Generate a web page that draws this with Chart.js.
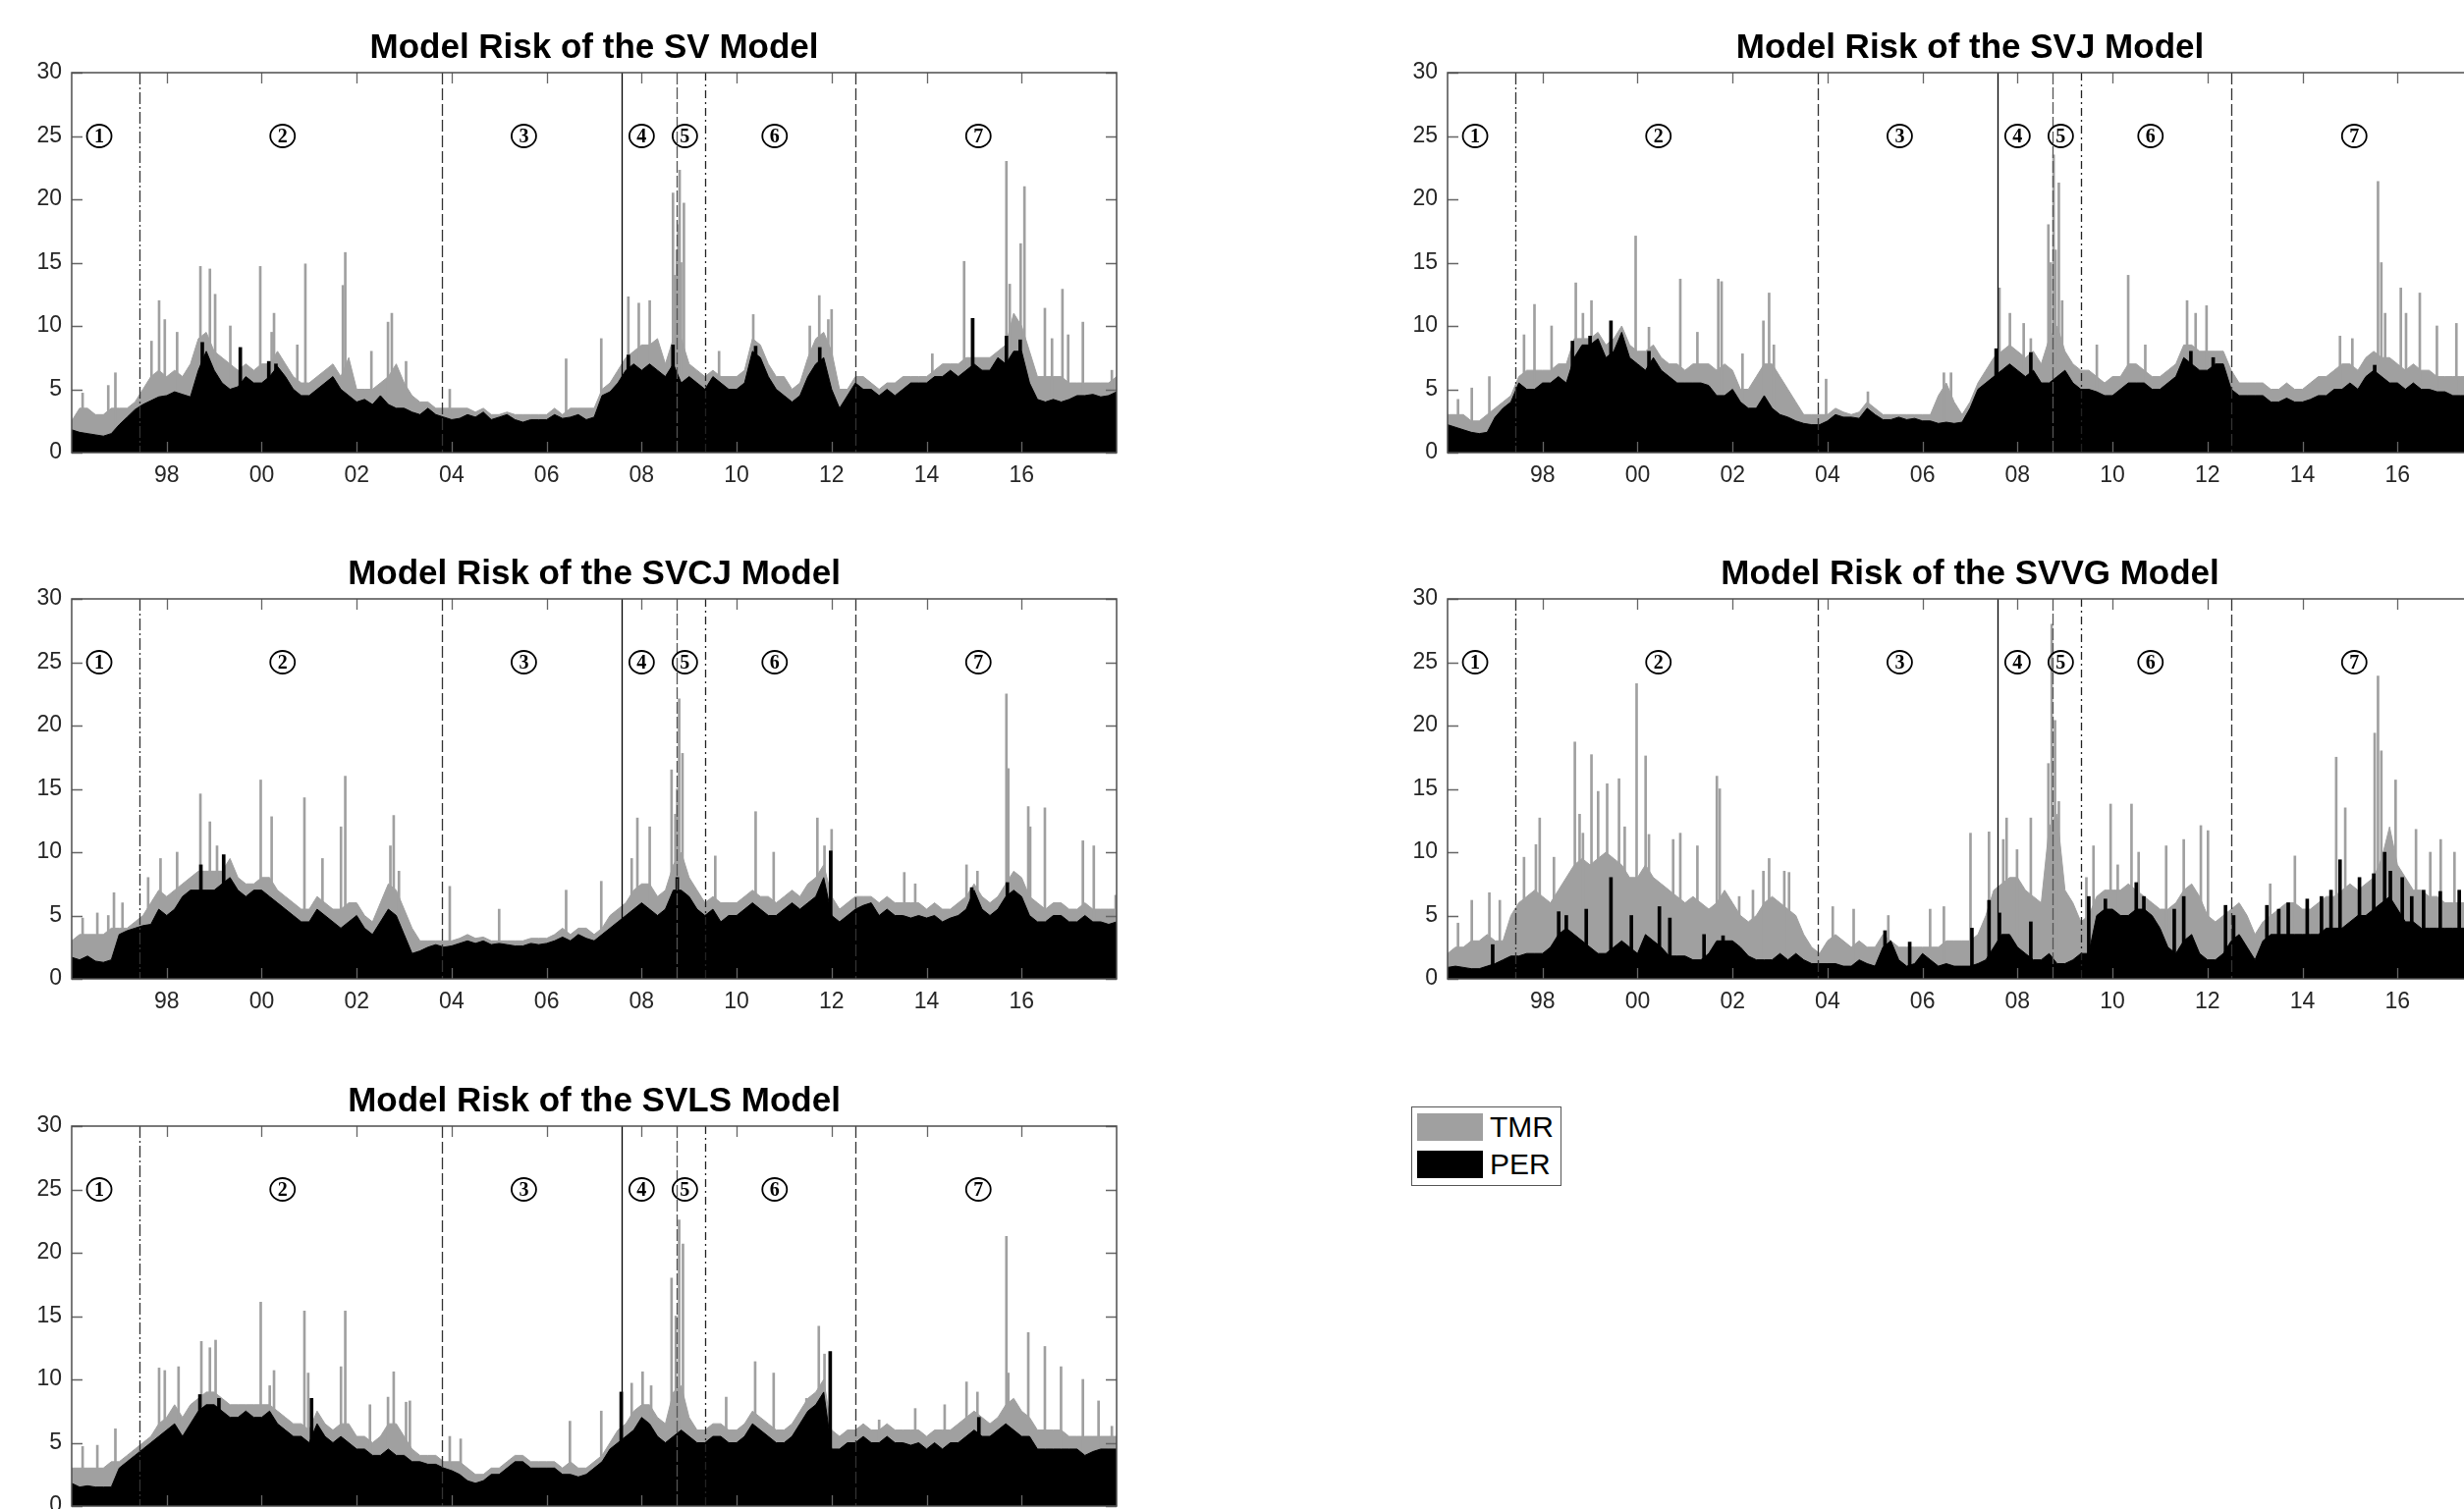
<!DOCTYPE html>
<html>
<head>
<meta charset="utf-8">
<script src="https://cdn.jsdelivr.net/npm/chart.js@4.4.1/dist/chart.umd.min.js"></script>
<style>
  html, body { margin: 0; padding: 0; background: #fff; width: 2509px; height: 1537px; overflow: hidden; }
  canvas { position: absolute; }
  #legend {
    position: absolute; left: 1437px; top: 1127px; width: 151px; height: 79px;
    border: 1px solid #555; background: #fff;
    font-family: 'Liberation Sans', Arial, Helvetica, sans-serif; font-size: 30px; color: #000;
  }
  #legend .sw { position: absolute; left: 5px; width: 67px; height: 28px; }
  #legend .lb { position: absolute; left: 79px; line-height: 30px; }
</style>
</head>
<body>
<canvas id="svChart"></canvas>
<canvas id="svjChart"></canvas>
<canvas id="svcjChart"></canvas>
<canvas id="svvgChart"></canvas>
<canvas id="svlsChart"></canvas>
<div id="legend">
  <div class="sw" style="top:6px;background:#a0a0a0"></div><div class="lb" style="top:5px">TMR</div>
  <div class="sw" style="top:44px;background:#000"></div><div class="lb" style="top:43px">PER</div>
</div>
<script>
// time axis: one sample every 2 months from 1996 to 2018
const startYear = 1996;
const endYear = 2018;
const sampleStep = 1 / 6;

const xTickYears = [1998, 2000, 2002, 2004, 2006, 2008, 2010, 2012, 2014, 2016];
const xTickLabels = ['98', '00', '02', '04', '06', '08', '10', '12', '14', '16'];

// crisis periods
const regimeBreaks = [1997.42, 2003.79, 2007.57, 2008.73, 2009.33, 2012.49];
const regimeNames = ['1', '2', '3', '4', '5', '6', '7'];
const regimeLabelYears = [1996.58, 2000.44, 2005.52, 2008.0, 2008.91, 2010.8, 2015.09];
const regimeLabelLevel = 25;

// ---- SV ----
const svPER = [
  1.8, 1.6, 1.5, 1.4, 1.3, 1.5,
  2.2, 2.8, 3.4, 3.8, 4.1, 4.4,
  4.5, 4.8, 4.6, 4.4, 6.5, 8.0,
  6.5, 5.5, 5.0, 5.2, 6.0, 5.5,
  5.5, 6.0, 6.8, 6.0, 5.0, 4.5,
  4.5, 5.0, 5.5, 6.0, 5.0, 4.5,
  4.0, 4.2, 3.8, 4.5, 3.8, 3.5,
  3.5, 3.2, 3.0, 3.5, 3.0, 2.8,
  2.6, 2.7, 3.0, 2.8, 3.2, 2.6,
  2.8, 3.0, 2.6, 2.4, 2.6, 2.6,
  2.6, 3.0, 2.7, 2.8, 3.0, 2.6,
  2.8, 4.5, 4.8, 5.5, 6.5, 7.0,
  6.5, 7.0, 6.5, 6.0, 7.0, 5.5,
  6.0, 5.5, 5.0, 6.0, 5.5, 5.0,
  5.0, 5.5, 8.0, 7.5, 6.0, 5.0,
  4.5, 4.0, 4.5, 6.0, 7.0, 7.5,
  5.0, 3.5, 4.5, 5.5, 5.0, 5.0,
  4.5, 5.0, 4.5, 5.0, 5.5, 5.5,
  5.5, 6.0, 6.0, 6.5, 6.0, 6.5,
  7.0, 6.5, 6.5, 7.5, 7.0, 8.0,
  8.0, 5.5, 4.2, 4.0, 4.2, 4.0,
  4.2, 4.5, 4.5, 4.6, 4.4, 4.5,
  4.8
];
const svTMR = [
  2.5, 3.5, 3.5, 3.0, 3.0, 3.5,
  3.5, 3.5, 4.0, 5.0, 6.0, 6.5,
  6.0, 6.5, 6.0, 7.0, 9.0, 9.5,
  8.0, 7.5, 7.0, 6.5, 7.0, 6.5,
  7.0, 7.0, 8.0, 7.0, 6.0, 5.5,
  5.5, 6.0, 6.5, 7.0, 6.0, 7.5,
  5.0, 5.0, 5.0, 5.5, 6.0, 7.0,
  5.5, 4.5, 4.0, 4.0, 3.5, 3.5,
  3.5, 3.5, 3.5, 3.2, 3.5, 3.0,
  3.0, 3.2, 3.0, 3.0, 3.0, 3.0,
  3.0, 3.5, 3.0, 3.5, 3.5, 3.5,
  3.5, 5.0, 5.5, 6.5, 7.5, 8.0,
  8.5, 8.5, 9.0, 7.0, 9.0, 9.0,
  7.0, 6.5, 6.0, 6.5, 6.0, 6.0,
  6.0, 6.5, 9.0, 8.5, 7.0, 6.0,
  6.0, 5.0, 5.5, 7.5, 9.0, 9.5,
  8.0, 5.0, 5.0, 6.0, 6.0, 5.5,
  5.0, 5.5, 5.5, 6.0, 6.0, 6.0,
  6.0, 6.5, 7.0, 7.0, 7.0, 7.5,
  7.5, 7.5, 7.5, 8.0, 8.5, 11.0,
  10.0, 8.0, 6.0, 6.0, 6.0, 6.0,
  5.5, 5.5, 5.5, 5.5, 5.5, 5.5,
  6.0
];
const svTMRSpikes = [
  [1996.23, 4.7], [1996.77, 5.3], [1996.92, 6.3], [1997.68, 8.8], [1997.84, 12.0], [1997.96, 10.5],
  [1998.22, 9.5], [1998.71, 14.7], [1998.91, 14.5], [1999.02, 12.5], [1999.34, 10.0], [1999.97, 14.7],
  [2000.21, 9.5], [2000.26, 11.0], [2000.75, 8.5], [2000.92, 14.9], [2001.71, 13.2], [2001.76, 15.8],
  [2002.31, 8.0], [2002.66, 10.3], [2002.74, 11.0], [2003.04, 7.2], [2003.96, 5.0], [2006.41, 7.4],
  [2007.15, 9.0], [2007.72, 12.3], [2007.94, 11.8], [2008.17, 12.0], [2008.66, 20.5], [2008.7, 14.0],
  [2008.74, 16.0], [2008.77, 18.0], [2008.8, 22.3], [2008.83, 15.0], [2008.89, 19.7], [2009.63, 8.0],
  [2010.35, 10.9], [2011.54, 10.0], [2011.74, 12.4], [2011.93, 10.5], [2012.0, 11.3], [2014.12, 7.8],
  [2014.79, 15.1], [2014.96, 10.6], [2015.68, 23.0], [2015.75, 13.3], [2015.98, 16.5], [2016.06, 21.0],
  [2016.49, 11.4], [2016.64, 9.0], [2016.86, 12.9], [2016.98, 9.3], [2017.29, 10.3], [2017.9, 6.5]
];
const svPERSpikes = [
  [1998.75, 8.7], [1999.55, 8.3], [2000.15, 7.2], [2000.3, 7.0], [2007.72, 7.7], [2008.66, 8.5],
  [2010.4, 8.4], [2011.75, 8.3], [2014.97, 10.6], [2015.68, 9.2], [2015.97, 8.9]
];

// ---- SVJ ----
const svjPER = [
  2.2, 2.0, 1.8, 1.6, 1.5, 1.6,
  2.8, 3.5, 4.0, 5.5, 5.0, 5.0,
  5.5, 5.5, 6.0, 5.5, 7.5, 8.5,
  8.5, 9.0, 7.5, 8.0, 9.5, 7.5,
  7.0, 6.5, 7.5, 6.5, 6.0, 5.5,
  5.5, 5.5, 5.5, 5.3, 4.5, 4.5,
  5.0, 4.0, 3.5, 3.5, 4.5, 3.5,
  3.0, 2.8, 2.5, 2.3, 2.2, 2.2,
  2.5, 3.0, 2.8, 2.8, 2.7, 3.5,
  3.0, 2.6, 2.6, 2.8, 2.6, 2.7,
  2.5, 2.5, 2.3, 2.4, 2.3, 2.4,
  3.5, 5.0, 5.5, 6.0, 6.5, 7.0,
  6.5, 6.0, 6.5, 5.5, 5.5, 6.0,
  6.5, 5.5, 5.0, 5.0, 4.8, 4.5,
  4.5, 5.0, 5.5, 5.5, 5.5, 5.0,
  5.0, 5.5, 6.0, 7.5, 7.0, 6.5,
  6.5, 7.0, 7.0, 5.0, 4.5, 4.5,
  4.5, 4.5, 4.0, 4.0, 4.3, 4.0,
  4.0, 4.2, 4.5, 4.5, 5.0, 5.0,
  5.5, 5.0, 6.0, 6.5, 6.0, 5.5,
  5.5, 5.0, 5.5, 5.0, 5.0, 4.8,
  4.8, 4.5, 4.5, 4.5, 4.5, 4.5,
  4.5
];
const svjTMR = [
  3.0, 3.0, 3.0, 2.5, 2.5, 3.0,
  3.5, 4.0, 4.5, 6.0, 6.5, 6.5,
  6.5, 6.5, 7.0, 7.0, 9.0, 9.0,
  9.0, 9.5, 8.5, 9.0, 10.0, 8.5,
  8.0, 8.0, 8.5, 7.5, 7.0, 7.0,
  6.5, 7.0, 7.0, 7.0, 6.5, 7.0,
  6.5, 5.0, 5.0, 6.0, 7.0, 7.0,
  6.0, 5.0, 4.0, 3.0, 3.0, 3.0,
  3.0, 3.5, 3.2, 3.0, 3.2, 4.0,
  3.5, 3.0, 3.0, 3.0, 3.0, 3.0,
  3.0, 3.0, 4.5, 5.5, 4.0, 3.0,
  4.0, 5.5, 6.5, 7.5, 8.0, 8.5,
  8.0, 7.5, 8.0, 7.0, 9.0, 10.0,
  8.0, 7.0, 6.5, 6.5, 6.0, 5.5,
  6.0, 6.0, 7.0, 7.0, 6.5, 6.0,
  6.0, 6.5, 7.0, 8.5, 8.5, 8.0,
  8.0, 8.0, 8.0, 6.5, 5.5, 5.5,
  5.5, 5.5, 5.0, 5.0, 5.5, 5.0,
  5.0, 5.5, 6.0, 6.0, 6.5, 7.0,
  7.0, 6.5, 7.5, 8.0, 7.5, 7.5,
  7.0, 6.5, 7.0, 6.5, 6.5, 6.0,
  6.0, 6.0, 6.0, 6.0, 6.0, 6.0,
  6.0
];
const svjTMRSpikes = [
  [1996.22, 4.2], [1996.51, 5.1], [1996.88, 6.0], [1997.61, 9.3], [1997.83, 11.7], [1998.19, 10.0],
  [1998.7, 13.4], [1998.85, 11.0], [1999.03, 12.0], [1999.96, 17.1], [2000.24, 9.9], [2000.9, 13.7],
  [2001.26, 9.5], [2001.7, 13.7], [2001.77, 13.5], [2002.21, 7.8], [2002.65, 10.4], [2002.77, 12.6],
  [2002.87, 8.5], [2003.97, 5.8], [2004.85, 4.8], [2006.45, 6.3], [2006.6, 6.3], [2007.62, 13.0],
  [2007.84, 11.0], [2008.13, 10.2], [2008.28, 9.0], [2008.65, 18.0], [2008.7, 15.0], [2008.76, 23.5],
  [2008.8, 16.0], [2008.87, 21.3], [2008.94, 12.0], [2009.67, 8.5], [2010.33, 14.0], [2010.69, 8.5],
  [2011.57, 12.0], [2011.75, 11.0], [2011.98, 11.6], [2014.79, 9.2], [2015.05, 9.0], [2015.59, 21.4],
  [2015.66, 15.0], [2015.74, 11.0], [2016.07, 13.0], [2016.18, 11.0], [2016.47, 12.6], [2016.83, 10.0],
  [2017.24, 10.2], [2017.5, 8.0], [2017.8, 7.0]
];
const svjPERSpikes = [
  [1998.63, 8.8], [1999.0, 9.2], [1999.44, 10.4], [2000.24, 8.0], [2007.55, 8.2], [2008.28, 7.9],
  [2011.65, 8.0], [2012.12, 7.5], [2015.52, 6.9]
];

// ---- SVCJ ----
const svcjPER = [
  1.7, 1.5, 1.8, 1.4, 1.3, 1.5,
  3.5, 3.8, 4.0, 4.2, 4.3, 5.5,
  5.0, 5.5, 6.5, 7.0, 7.0, 7.0,
  7.0, 7.5, 8.0, 7.0, 6.5, 7.0,
  7.0, 6.5, 6.0, 5.5, 5.0, 4.5,
  4.5, 5.5, 5.0, 4.5, 4.0, 4.5,
  5.0, 4.0, 3.5, 4.5, 5.5, 5.0,
  3.5, 2.0, 2.2, 2.5, 2.7, 2.5,
  2.6, 2.8, 3.0, 2.8, 3.0, 2.7,
  2.8, 2.7, 2.6, 2.6, 2.8, 2.7,
  2.8, 3.0, 3.3, 3.0, 3.5, 3.2,
  3.0, 3.5, 4.0, 4.5, 5.0, 5.5,
  6.0, 5.5, 5.0, 5.5, 7.0, 7.0,
  6.5, 5.5, 5.0, 5.5, 4.5, 5.0,
  5.0, 5.5, 6.0, 5.5, 5.0, 5.0,
  5.5, 6.0, 5.5, 6.0, 6.5, 8.0,
  5.0, 4.5, 5.0, 5.5, 5.8, 6.0,
  5.0, 5.5, 5.0, 5.0, 4.8, 5.0,
  4.8, 5.0, 4.5, 4.8, 5.0, 5.5,
  7.0, 5.5, 5.0, 5.5, 6.5, 7.0,
  6.5, 5.0, 4.5, 4.5, 5.0, 5.0,
  4.5, 4.5, 5.0, 4.5, 4.5, 4.3,
  4.5
];
const svcjTMR = [
  3.0, 3.5, 3.5, 3.5, 3.5, 4.0,
  4.0, 4.0, 4.5, 5.0, 6.0, 7.0,
  6.5, 7.0, 7.5, 8.0, 8.5, 8.5,
  8.5, 8.5, 9.5, 8.0, 7.5, 7.5,
  8.0, 8.0, 7.0, 6.5, 6.0, 5.5,
  5.5, 6.5, 6.0, 5.5, 5.5, 6.0,
  6.0, 5.0, 4.5, 6.0, 7.5, 7.0,
  5.5, 4.0, 3.0, 3.0, 3.0, 3.0,
  3.0, 3.2, 3.5, 3.2, 3.3, 3.0,
  3.0, 3.0, 3.0, 3.0, 3.2, 3.2,
  3.2, 3.5, 4.0, 3.5, 4.0, 4.0,
  3.5, 4.0, 5.0, 5.5, 6.0, 7.0,
  7.5, 7.5, 6.5, 7.0, 9.0, 10.0,
  8.0, 7.0, 6.0, 6.5, 6.0, 6.0,
  6.0, 6.5, 7.0, 6.5, 6.5, 6.0,
  6.5, 7.0, 6.5, 7.5, 8.0, 9.0,
  6.5, 5.5, 6.0, 6.5, 6.5, 6.5,
  6.0, 6.5, 6.0, 6.0, 6.0, 6.0,
  5.5, 6.0, 5.5, 5.5, 6.0, 6.5,
  7.5, 6.5, 6.0, 6.5, 7.5, 8.5,
  8.0, 6.5, 6.0, 5.5, 6.0, 6.0,
  5.5, 5.5, 6.0, 5.5, 5.5, 5.5,
  5.5
];
const svcjTMRSpikes = [
  [1996.23, 4.8], [1996.54, 5.2], [1996.77, 5.0], [1996.89, 6.8], [1997.07, 6.0], [1997.61, 8.0],
  [1997.87, 9.5], [1998.22, 10.0], [1998.71, 14.6], [1998.91, 12.4], [1999.06, 10.5], [1999.98, 15.7],
  [2000.21, 12.8], [2000.9, 14.3], [2001.28, 9.5], [2001.67, 12.0], [2001.76, 16.0], [2002.71, 10.5],
  [2002.78, 12.9], [2002.89, 8.5], [2003.96, 7.3], [2005.0, 5.5], [2006.41, 7.0], [2007.15, 7.7],
  [2007.79, 9.5], [2007.91, 12.7], [2008.17, 12.0], [2008.63, 16.5], [2008.71, 13.0], [2008.75, 15.0],
  [2008.79, 22.1], [2008.86, 17.8], [2009.55, 9.7], [2010.4, 13.2], [2010.78, 10.0], [2011.7, 12.7],
  [2011.85, 10.5], [2012.0, 11.8], [2013.53, 8.4], [2013.76, 7.5], [2014.84, 9.0], [2015.07, 8.5],
  [2015.68, 22.5], [2015.72, 16.6], [2016.14, 13.6], [2016.18, 12.0], [2016.49, 13.5], [2017.29, 10.9],
  [2017.52, 10.5], [2017.98, 6.6]
];
const svcjPERSpikes = [
  [1998.72, 9.0], [1999.2, 9.8], [2008.75, 8.0], [2011.98, 10.1], [2014.95, 7.2], [2015.7, 7.6]
];

// ---- SVVG ----
const svvgPER = [
  0.9, 1.0, 0.9, 0.8, 0.8, 1.0,
  1.2, 1.5, 1.8, 1.8, 2.0, 2.0,
  2.0, 2.5, 3.5, 4.0, 3.5, 3.0,
  2.5, 2.0, 2.0, 2.5, 3.0, 2.5,
  2.0, 3.5, 3.0, 2.5, 1.8, 1.8,
  1.8, 1.5, 1.5, 2.0, 3.0, 3.0,
  3.0, 2.5, 1.8, 1.5, 1.5, 1.5,
  2.0, 1.5, 2.0, 1.5, 1.2, 1.2,
  1.2, 1.2, 1.0, 1.0, 1.5, 1.2,
  1.0, 2.5, 3.0, 1.5, 1.0, 1.2,
  2.0, 1.5, 1.0, 1.2, 1.0, 1.0,
  1.0, 1.2, 1.5, 2.5, 3.5, 3.5,
  2.5, 2.0, 1.5, 1.5, 2.0, 1.2,
  1.2, 1.5, 2.0, 2.0, 5.0, 5.5,
  5.5, 5.0, 5.0, 5.5, 5.5, 5.0,
  4.0, 2.5, 2.0, 3.0, 3.5, 2.0,
  1.5, 1.5, 2.0, 3.0, 3.5, 2.5,
  1.5, 3.0, 3.5, 3.5, 3.5, 3.5,
  3.5, 3.5, 3.5, 4.0, 4.0, 4.0,
  4.5, 5.0, 5.0, 5.5, 6.0, 6.5,
  5.5, 4.5, 4.5, 4.0, 4.0, 4.0,
  4.0, 4.0, 4.0, 4.0, 4.0, 4.0,
  4.0
];
const svvgTMR = [
  2.0, 2.5, 2.5, 3.0, 3.0, 3.5,
  3.0, 3.0, 5.0, 6.0, 6.5, 7.0,
  6.5, 6.0, 7.0, 8.0, 9.0, 9.5,
  9.0, 9.5, 10.0, 9.5, 9.0, 8.0,
  8.0, 9.0, 8.0, 7.5, 7.0, 6.5,
  6.0, 6.5, 6.0, 5.5, 6.0, 7.0,
  6.0, 5.0, 4.5, 5.0, 6.0, 6.5,
  6.0, 5.5, 5.0, 3.5, 2.5, 2.0,
  3.0, 3.5, 3.0, 2.5, 3.0, 2.5,
  2.5, 3.5, 3.0, 2.5, 2.5, 2.5,
  2.5, 2.5, 2.5, 3.0, 3.0, 3.0,
  3.0, 3.5, 5.0, 7.0, 7.5, 8.0,
  8.0, 7.0, 6.5, 6.0, 12.0, 13.0,
  7.0, 6.0, 4.5, 5.0, 6.5, 7.0,
  7.0, 7.0, 7.5, 7.0, 6.5, 6.0,
  5.5, 5.5, 6.0, 7.0, 7.5, 6.5,
  5.0, 4.5, 5.0, 5.5, 6.0, 5.0,
  3.5, 4.5, 5.0, 5.5, 6.0, 6.0,
  5.5, 5.5, 6.0, 6.5, 6.5, 7.0,
  7.5, 7.0, 7.5, 8.0, 9.5, 12.0,
  9.0, 8.0, 7.0, 7.0, 6.5, 6.5,
  6.0, 6.0, 6.0, 6.0, 6.0, 6.0,
  6.0
];
const svvgTMRSpikes = [
  [1996.22, 4.4], [1996.51, 6.2], [1996.88, 6.8], [1997.1, 6.2], [1997.61, 9.6], [1997.86, 10.6],
  [1997.94, 12.7], [1998.24, 9.6], [1998.68, 18.7], [1998.78, 13.0], [1998.85, 11.5], [1999.03, 17.7],
  [1999.17, 14.8], [1999.36, 15.4], [1999.61, 15.8], [1999.73, 12.0], [1999.98, 23.3], [2000.17, 17.6],
  [2000.24, 11.4], [2000.75, 11.0], [2000.9, 11.5], [2001.26, 10.5], [2001.67, 16.0], [2001.73, 15.0],
  [2002.14, 6.5], [2002.43, 7.0], [2002.65, 8.5], [2002.77, 9.5], [2003.09, 8.5], [2003.19, 8.4],
  [2004.11, 5.7], [2004.55, 5.5], [2005.28, 5.0], [2006.16, 5.5], [2006.45, 5.7], [2007.01, 11.5],
  [2007.4, 11.6], [2007.7, 11.0], [2007.77, 12.7], [2007.99, 10.2], [2008.28, 12.7], [2008.65, 17.0],
  [2008.72, 28.0], [2008.79, 20.4], [2008.87, 14.0], [2009.45, 8.0], [2009.6, 10.5], [2009.96, 13.8],
  [2010.11, 9.0], [2010.4, 13.8], [2010.55, 10.0], [2011.13, 10.5], [2011.5, 11.0], [2011.86, 12.1],
  [2012.01, 11.7], [2013.32, 7.5], [2013.84, 9.7], [2014.71, 17.5], [2014.9, 13.5], [2015.52, 19.4],
  [2015.59, 23.9], [2015.66, 18.0], [2015.96, 15.7], [2016.39, 11.8], [2016.69, 10.0], [2016.91, 11.0],
  [2017.2, 10.0], [2017.5, 9.0], [2017.8, 8.0]
];
const svvgPERSpikes = [
  [1996.95, 2.7], [1998.34, 5.3], [1998.5, 5.0], [1998.92, 5.5], [1999.44, 8.0], [1999.87, 5.0],
  [2000.46, 5.7], [2000.68, 4.8], [2001.4, 3.5], [2001.8, 3.4], [2005.21, 3.8], [2005.73, 2.9],
  [2007.04, 4.0], [2007.4, 6.2], [2007.62, 5.2], [2008.28, 4.5], [2009.5, 6.5], [2009.85, 6.3],
  [2010.5, 7.6], [2010.66, 6.5], [2011.3, 5.5], [2011.5, 6.5], [2012.38, 5.8], [2012.55, 5.0],
  [2013.25, 5.8], [2013.5, 5.5], [2013.7, 6.0], [2014.1, 6.3], [2014.4, 6.5], [2014.6, 7.0],
  [2014.79, 9.4], [2015.2, 8.0], [2015.5, 8.3], [2015.73, 10.0], [2015.85, 8.5], [2016.1, 8.0],
  [2016.3, 6.5], [2016.55, 7.0], [2016.9, 6.9], [2017.3, 7.0], [2017.6, 6.5]
];

// ---- SVLS ----
const svlsPER = [
  1.8, 1.5, 1.6, 1.5, 1.5, 1.5,
  3.0, 3.5, 4.0, 4.5, 5.0, 5.5,
  6.0, 6.5, 5.5, 6.5, 7.5, 8.0,
  8.0, 7.5, 7.0, 7.0, 7.5, 7.0,
  7.0, 7.5, 6.5, 6.0, 5.5, 5.5,
  5.0, 6.5, 5.5, 5.0, 5.5, 5.0,
  4.5, 4.5, 4.0, 4.0, 4.5, 4.0,
  4.0, 3.5, 3.5, 3.3, 3.3, 3.0,
  2.8, 2.5, 2.0, 1.8, 2.0, 2.5,
  2.5, 3.0, 3.5, 3.5, 3.0, 3.0,
  3.0, 3.0, 2.5, 2.5, 2.3, 2.5,
  3.0, 3.5, 4.5, 5.0, 5.5, 6.0,
  7.0, 6.5, 5.5, 5.0, 5.5, 6.0,
  5.5, 5.0, 5.0, 5.5, 5.5, 5.0,
  5.0, 5.5, 6.5, 6.0, 5.5, 5.0,
  5.0, 5.5, 6.5, 7.5, 8.0, 9.0,
  4.5, 4.5, 5.0, 5.0, 5.5, 5.0,
  5.0, 5.5, 5.0, 5.0, 4.8, 5.0,
  4.5, 5.0, 4.5, 5.0, 5.0, 5.5,
  6.0, 5.5, 5.5, 6.0, 6.5, 6.0,
  5.5, 5.5, 4.5, 4.5, 4.5, 4.5,
  4.5, 4.5, 4.0, 4.3, 4.5, 4.5,
  4.5
];
const svlsTMR = [
  3.0, 3.0, 3.0, 3.0, 3.0, 3.5,
  3.5, 4.0, 4.5, 5.0, 5.5, 6.5,
  7.0, 8.0, 7.0, 8.0, 8.5, 9.0,
  9.0, 8.5, 8.0, 8.0, 8.0, 8.0,
  8.0, 8.0, 7.5, 7.0, 6.5, 6.5,
  6.0, 7.5, 6.5, 6.0, 6.5, 6.5,
  5.5, 5.5, 5.0, 5.5, 6.5, 6.5,
  5.5, 4.5, 4.0, 4.0, 4.0, 3.5,
  3.5, 3.5, 3.0, 2.5, 2.5, 3.0,
  3.0, 3.5, 4.0, 4.0, 3.5, 3.5,
  3.5, 3.5, 3.0, 3.5, 3.0, 3.0,
  3.5, 4.0, 5.0, 6.0, 6.5, 7.5,
  8.0, 8.0, 7.0, 6.5, 9.0, 9.5,
  7.0, 6.0, 6.0, 6.5, 6.5, 6.0,
  6.0, 6.5, 7.5, 7.0, 6.5, 6.0,
  6.0, 6.5, 7.5, 8.5, 9.0, 10.0,
  6.0, 5.5, 6.0, 6.0, 6.5, 6.0,
  6.0, 6.5, 6.0, 6.0, 6.0, 6.0,
  5.5, 6.0, 6.0, 6.0, 6.5, 7.0,
  7.5, 7.0, 6.5, 7.0, 8.0, 8.5,
  7.5, 7.0, 6.0, 6.0, 6.0, 6.0,
  5.5, 5.5, 5.5, 5.5, 5.5, 5.5,
  5.5
];
const svlsTMRSpikes = [
  [1996.23, 4.7], [1996.54, 4.8], [1996.92, 6.1], [1997.84, 10.9], [1997.96, 10.7], [1998.25, 11.0],
  [1998.73, 13.0], [1998.91, 12.5], [1999.03, 13.1], [1999.98, 16.1], [2000.17, 9.5], [2000.26, 10.7],
  [2000.9, 15.4], [2000.98, 10.5], [2001.67, 11.0], [2001.76, 15.4], [2002.28, 8.0], [2002.66, 8.6],
  [2002.78, 10.6], [2003.04, 8.2], [2003.12, 8.3], [2003.96, 5.5], [2004.19, 5.3], [2006.49, 6.7],
  [2007.15, 7.5], [2007.79, 9.7], [2008.02, 10.6], [2008.2, 9.5], [2008.63, 18.0], [2008.72, 15.0],
  [2008.79, 22.6], [2008.87, 20.7], [2009.78, 8.6], [2010.39, 11.4], [2010.78, 10.5], [2011.47, 8.5],
  [2011.73, 14.2], [2011.85, 12.0], [2013.0, 6.8], [2013.76, 7.7], [2014.38, 8.0], [2014.84, 9.8],
  [2015.07, 9.0], [2015.68, 21.3], [2015.72, 10.5], [2016.14, 13.7], [2016.49, 12.6], [2016.83, 11.0],
  [2017.29, 10.0], [2017.62, 8.3], [2017.9, 6.3]
];
const svlsPERSpikes = [
  [1998.7, 8.8], [1999.1, 8.5], [2001.05, 8.5], [2007.57, 9.0], [2011.97, 12.2], [2015.1, 7.0]
];

// ---- layout / style ----
const GRAY = '#a0a0a0';
const FONT = "'Liberation Sans', Arial, Helvetica, sans-serif";
const PLOT_W = 1064, PLOT_H = 387;
const PAD_L = 80, PAD_T = 80, PAD_R = 20, PAD_B = 60;
const regimeDash = [[12, 3, 2, 3], [12, 4], [], [12, 3], [8, 4, 2, 4], [12, 4]];
const regimeColor = ['#333', '#333', '#000', '#555', '#222', '#333'];

Chart.defaults.font.family = FONT;

const toPoints = arr => arr.map((v, i) => ({ x: startYear + i * sampleStep, y: v }));
const toSpikes = arr => arr.map(p => ({ x: p[0], y: p[1] }));

// MATLAB-like axes: box, inward ticks, period lines, circled numbers, title
const matlabAxes = {
  id: 'matlabAxes',
  afterDatasetsDraw(chart, args, opts) {
    const { ctx, chartArea: a, scales: { x, y } } = chart;
    ctx.save();
    // period separators
    ctx.lineWidth = 1.3;
    regimeBreaks.forEach((b, i) => {
      const px = Math.round(x.getPixelForValue(b)) + 0.5;
      ctx.strokeStyle = regimeColor[i];
      ctx.setLineDash(regimeDash[i]);
      ctx.beginPath();
      ctx.moveTo(px, a.top);
      ctx.lineTo(px, a.bottom);
      ctx.stroke();
    });
    ctx.setLineDash([]);
    // circled period numbers
    ctx.strokeStyle = '#000';
    ctx.fillStyle = '#000';
    ctx.lineWidth = 1.8;
    ctx.font = "bold 20px 'Liberation Serif', 'Times New Roman', serif";
    ctx.textAlign = 'center';
    ctx.textBaseline = 'middle';
    regimeLabelYears.forEach((yr, i) => {
      const cx = x.getPixelForValue(yr), cy = y.getPixelForValue(regimeLabelLevel);
      ctx.beginPath();
      ctx.ellipse(cx, cy, 12.5, 11.5, 0, 0, Math.PI * 2);
      ctx.stroke();
      ctx.fillText(regimeNames[i], cx, cy + 1);
    });
    // inward ticks on all four sides
    ctx.strokeStyle = '#666';
    ctx.lineWidth = 1.3;
    ctx.beginPath();
    xTickYears.forEach(v => {
      const px = Math.round(x.getPixelForValue(v)) + 0.5;
      ctx.moveTo(px, a.bottom); ctx.lineTo(px, a.bottom - 11);
      ctx.moveTo(px, a.top); ctx.lineTo(px, a.top + 11);
    });
    y.ticks.forEach(t => {
      const py = Math.round(y.getPixelForValue(t.value)) + 0.5;
      ctx.moveTo(a.left, py); ctx.lineTo(a.left + 11, py);
      ctx.moveTo(a.right, py); ctx.lineTo(a.right - 11, py);
    });
    ctx.stroke();
    // box
    ctx.strokeStyle = '#4d4d4d';
    ctx.lineWidth = 1.5;
    ctx.strokeRect(a.left, a.top, a.right - a.left, a.bottom - a.top);
    // title, centred on the plot area
    ctx.fillStyle = '#000';
    ctx.font = 'bold 35px ' + FONT;
    ctx.textAlign = 'center';
    ctx.textBaseline = 'middle';
    ctx.fillText(opts.title, (a.left + a.right) / 2, a.top - 25);
    ctx.restore();
  }
};

function makePanel(id, plotLeft, plotTop, title, per, tmr, tmrSpikes, perSpikes) {
  const canvas = document.getElementById(id);
  canvas.width = PAD_L + PLOT_W + PAD_R;
  canvas.height = PAD_T + PLOT_H + PAD_B;
  canvas.style.left = (plotLeft - PAD_L) + 'px';
  canvas.style.top = (plotTop - PAD_T) + 'px';

  new Chart(canvas.getContext('2d'), {
    type: 'line',
    data: {
      datasets: [
        {
          label: 'PER', data: toPoints(per), fill: 'origin',
          backgroundColor: '#000', borderColor: '#000', borderWidth: 1,
          pointRadius: 0, tension: 0
        },
        {
          type: 'bar', label: 'PER peaks', data: toSpikes(perSpikes),
          backgroundColor: '#000', barThickness: 3, grouped: false
        },
        {
          type: 'bar', label: 'TMR peaks', data: toSpikes(tmrSpikes),
          backgroundColor: GRAY, barThickness: 2, grouped: false
        },
        {
          label: 'TMR', data: toPoints(tmr), fill: 'origin',
          backgroundColor: GRAY, borderColor: GRAY, borderWidth: 1,
          pointRadius: 0, tension: 0
        }
      ]
    },
    options: {
      responsive: false,
      animation: false,
      events: [],
      layout: { padding: { left: 0, right: PAD_R, top: PAD_T, bottom: 0 } },
      scales: {
        x: {
          type: 'linear', min: startYear, max: endYear, offset: false,
          grid: { display: false, drawTicks: false }, border: { display: false },
          afterBuildTicks: s => { s.ticks = xTickYears.map(v => ({ value: v })); },
          afterFit: s => { s.height = PAD_B; },
          ticks: {
            autoSkip: false, maxRotation: 0, padding: 10, color: '#262626',
            font: { size: 23 },
            callback: (v, i) => xTickLabels[i]
          }
        },
        y: {
          min: 0, max: 30,
          grid: { display: false, drawTicks: false }, border: { display: false },
          afterFit: s => { s.width = PAD_L; },
          ticks: { stepSize: 5, padding: 10, color: '#262626', font: { size: 23 } }
        }
      },
      plugins: {
        legend: { display: false },
        tooltip: { enabled: false },
        title: { display: false },
        matlabAxes: { title: title }
      }
    },
    plugins: [matlabAxes]
  });
}

makePanel('svChart', 73, 74, 'Model Risk of the SV Model', svPER, svTMR, svTMRSpikes, svPERSpikes);
makePanel('svjChart', 1474, 74, 'Model Risk of the SVJ Model', svjPER, svjTMR, svjTMRSpikes, svjPERSpikes);
makePanel('svcjChart', 73, 610, 'Model Risk of the SVCJ Model', svcjPER, svcjTMR, svcjTMRSpikes, svcjPERSpikes);
makePanel('svvgChart', 1474, 610, 'Model Risk of the SVVG Model', svvgPER, svvgTMR, svvgTMRSpikes, svvgPERSpikes);
makePanel('svlsChart', 73, 1147, 'Model Risk of the SVLS Model', svlsPER, svlsTMR, svlsTMRSpikes, svlsPERSpikes);
</script>
</body>
</html>
